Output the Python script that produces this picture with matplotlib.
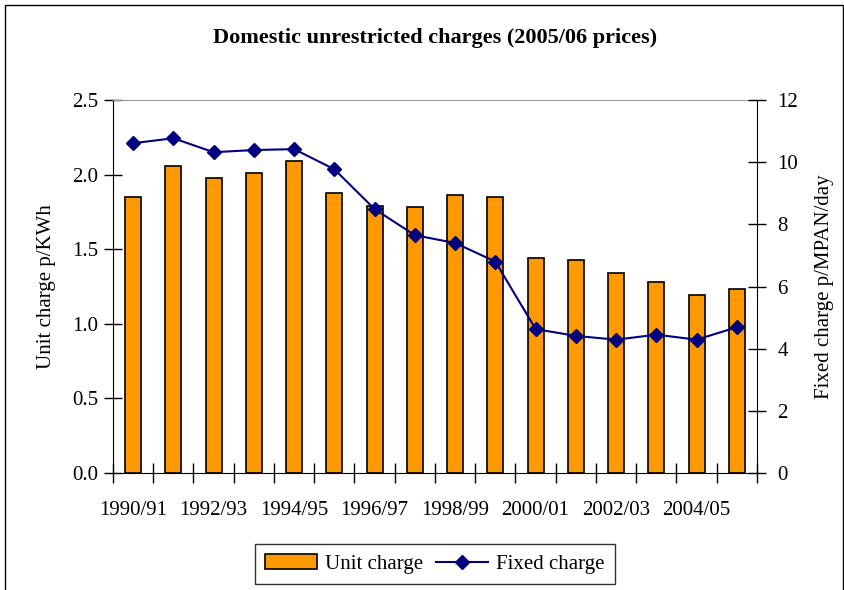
import matplotlib.pyplot as plt
import numpy as np
from matplotlib.patches import Rectangle

plt.rcParams['font.family'] = ['Liberation Serif', 'DejaVu Serif']

years = ['1990/91', '1991/92', '1992/93', '1993/94', '1994/95', '1995/96', '1996/97', '1997/98',
         '1998/99', '1999/00', '2000/01', '2001/02', '2002/03', '2003/04', '2004/05', '2005/06']
unit_charge = [1.85, 2.06, 1.98, 2.01, 2.09, 1.88, 1.79, 1.78, 1.86, 1.85, 1.44, 1.43, 1.34, 1.28, 1.19, 1.23]
fixed_charge = [10.61, 10.77, 10.32, 10.39, 10.42, 9.77, 8.49, 7.65, 7.40, 6.80, 4.63, 4.41, 4.29, 4.45, 4.29, 4.69]

fs = 15

fig = plt.figure(figsize=(8.45, 5.9), dpi=100)
ax = fig.add_axes([113/845, 1-473/590, 644/845, 373/590])
x = np.arange(len(years))

bars = ax.bar(x, unit_charge, width=0.4, color='#FF9900', edgecolor='black', linewidth=1.2,
              label='Unit charge', zorder=2)
ax.set_xlim(-0.5, len(years)-0.5)
ax.set_ylim(0, 2.5)
ax.set_yticks(np.arange(0, 2.51, 0.5))
ax.set_yticklabels(['%.1f' % v for v in np.arange(0, 2.51, 0.5)], fontsize=fs)
ax.set_xticks(x[::2])
ax.set_xticklabels(years[::2], fontsize=fs)
ax.set_xticks(np.arange(-0.5, len(years), 1), minor=True)
ax.tick_params(axis='x', which='major', length=0, pad=20)
ax.tick_params(axis='x', which='minor', length=14, direction='inout', width=1)
ax.tick_params(axis='y', length=13, direction='inout', width=1, pad=4)
ax.set_ylabel('Unit charge p/KWh', fontsize=fs, labelpad=12)
ax.spines['top'].set_color('#999999')
ax.spines['right'].set_visible(False)

ax2 = ax.twinx()
line, = ax2.plot(x, fixed_charge, color='#000080', marker='D', markersize=7, linewidth=1.5,
                 label='Fixed charge', zorder=3)
ax2.set_ylim(0, 12)
ax2.set_yticks(range(0, 13, 2))
ax2.tick_params(axis='y', length=13, direction='inout', width=1, labelsize=fs, pad=8)
ax2.set_ylabel('Fixed charge p/MPAN/day', fontsize=fs, labelpad=12)
ax2.spines['top'].set_visible(False)
ax2.spines['left'].set_visible(False)
ax2.spines['bottom'].set_visible(False)

fig.text(435/845, 1-38/590, 'Domestic unrestricted charges (2005/06 prices)', ha='center', va='center',
         fontsize=16, fontweight='bold')

fig.legend([bars, line], ['Unit charge', 'Fixed charge'], loc='center', bbox_to_anchor=(435/845, 1-564/590),
           ncol=2, fontsize=fs, frameon=True, fancybox=False, edgecolor='black', handlelength=2.5,
           columnspacing=0.6, handletextpad=0.4, borderpad=0.5)

fig.patches.append(Rectangle((5/845, -0.01), 838/845, 1.01 - 5/590, transform=fig.transFigure,
                             fill=False, edgecolor='black', linewidth=1))

fig.savefig('out.png', dpi=100)
